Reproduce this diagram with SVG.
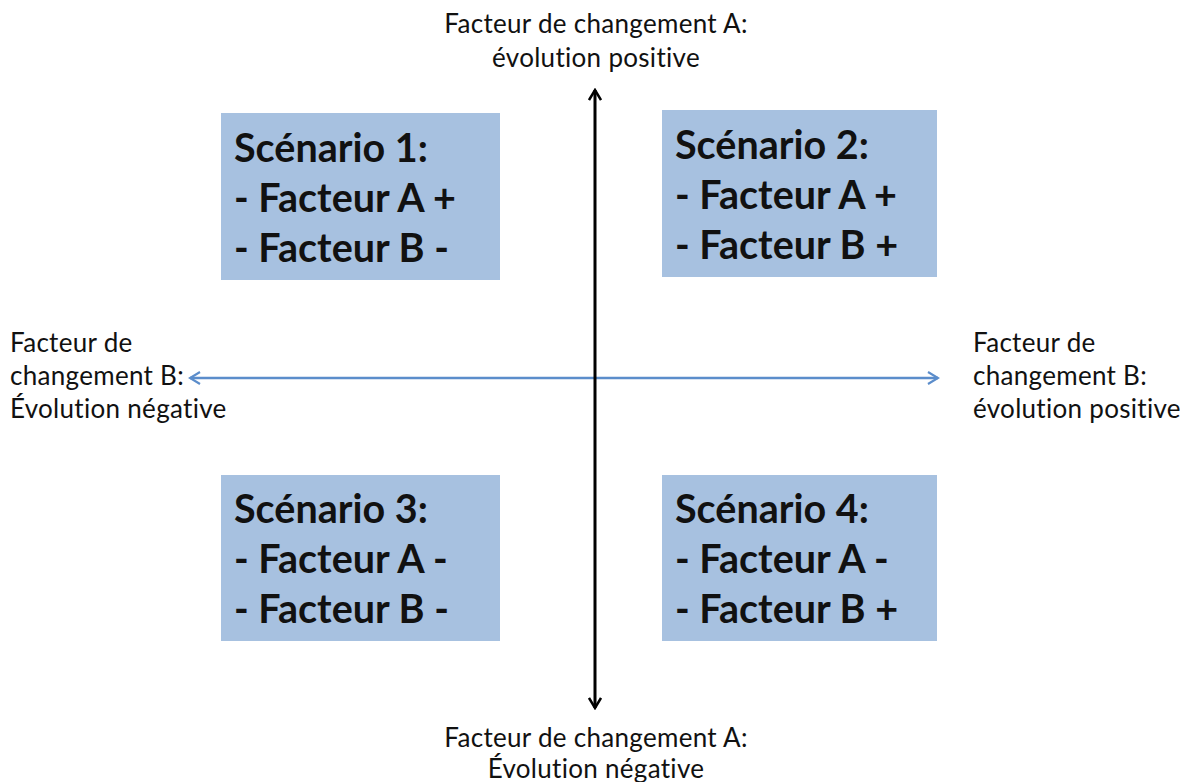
<svg xmlns="http://www.w3.org/2000/svg" width="1180" height="782" viewBox="0 0 1180 782">
<defs>
<style>
.box{fill:#a7c1e0;}
.bt{font-family:Lato,"Open Sans","Liberation Sans",sans-serif;font-weight:bold;font-size:39.5px;fill:#111;}
.lb{font-family:Lato,"Open Sans","Liberation Sans",sans-serif;font-size:26px;letter-spacing:0.3px;fill:#111;}
</style>
<marker id="ak" viewBox="0 0 14 14" refX="12" refY="7" markerWidth="14" markerHeight="14" markerUnits="userSpaceOnUse" orient="auto-start-reverse">
<path d="M2,1 L12,7 L2,13" fill="none" stroke="#000" stroke-width="2.5"/>
</marker>
<marker id="ab" viewBox="0 0 14 14" refX="12" refY="7" markerWidth="14" markerHeight="14" markerUnits="userSpaceOnUse" orient="auto-start-reverse">
<path d="M2,1 L12,7 L2,13" fill="none" stroke="#5b8dcb" stroke-width="2.2"/>
</marker>
</defs>
<rect width="1180" height="782" fill="#fff"/>
<g id="connectors">
<line x1="190" y1="378" x2="938" y2="378" stroke="#5b8dcb" stroke-width="2.5" marker-start="url(#ab)" marker-end="url(#ab)"/>
<line x1="595" y1="90" x2="595" y2="708" stroke="#000" stroke-width="3" marker-start="url(#ak)" marker-end="url(#ak)"/>
</g>
<g id="s1">
<rect class="box" x="221" y="113" width="279" height="167"/>
<text class="bt" x="234" y="162">Scénario 1:</text>
<text class="bt" x="234" y="212">- Facteur A +</text>
<text class="bt" x="234" y="262">- Facteur B -</text>
</g>
<g id="s2">
<rect class="box" x="662" y="110" width="275" height="167"/>
<text class="bt" x="675" y="159">Scénario 2:</text>
<text class="bt" x="675" y="209">- Facteur A +</text>
<text class="bt" x="675" y="259">- Facteur B +</text>
</g>
<g id="s3">
<rect class="box" x="221" y="475" width="279" height="166"/>
<text class="bt" x="234" y="523">Scénario 3:</text>
<text class="bt" x="234" y="573">- Facteur A -</text>
<text class="bt" x="234" y="623">- Facteur B -</text>
</g>
<g id="s4">
<rect class="box" x="662" y="475" width="275" height="166"/>
<text class="bt" x="675" y="523">Scénario 4:</text>
<text class="bt" x="675" y="573">- Facteur A -</text>
<text class="bt" x="675" y="623">- Facteur B +</text>
</g>
<g id="top">
<text class="lb" x="596" y="33" text-anchor="middle">Facteur de changement A:</text>
<text class="lb" x="596" y="67" text-anchor="middle">évolution positive</text>
</g>
<g id="bottom">
<text class="lb" x="596" y="747" text-anchor="middle">Facteur de changement A:</text>
<text class="lb" x="596" y="778" text-anchor="middle">Évolution négative</text>
</g>
<g id="left">
<text class="lb" x="10" y="352">Facteur de</text>
<text class="lb" x="10" y="385">changement B:</text>
<text class="lb" x="10" y="418">Évolution négative</text>
</g>
<g id="right">
<text class="lb" x="973" y="352">Facteur de</text>
<text class="lb" x="973" y="385">changement B:</text>
<text class="lb" x="973" y="418">évolution positive</text>
</g>
</svg>
